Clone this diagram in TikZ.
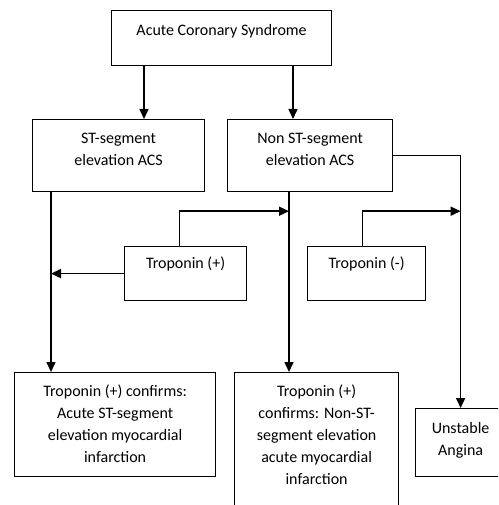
\documentclass[tikz,border=0pt]{standalone}
\usepackage{fontspec}
\setmainfont{Carlito}
\usetikzlibrary{arrows.meta}
\begin{document}
\begin{tikzpicture}[x=1pt,y=-1pt,
 box/.style={draw, line width=1.2pt, anchor=north west, inner sep=0pt},
 txt/.style={anchor=north, align=center, inner sep=0pt, font=\fontsize{16}{22}\selectfont},
 arr/.style={line width=1.6pt, -{Triangle[length=10pt,width=9pt]}}]
\useasboundingbox (0,0) rectangle (498,505);
\clip (0,0) rectangle (498,505);
% boxes
\node[box, minimum width=220pt, minimum height=55pt] (acs) at (111,10) {};
\node[box, minimum width=172pt, minimum height=72pt] (st) at (32,119) {};
\node[box, minimum width=165pt, minimum height=72pt] (nst) at (227,119) {};
\node[box, minimum width=122pt, minimum height=54pt] (tp) at (124,246) {};
\node[box, minimum width=118pt, minimum height=54pt] (tm) at (307,246) {};
\node[box, minimum width=201pt, minimum height=104pt] (bl) at (14,372) {};
\node[box, minimum width=164pt, minimum height=160pt] (bc) at (234,372) {};
\node[box, minimum width=90pt, minimum height=68pt] (ua) at (415,408) {};
% texts
\node[txt] (acsT) at ([yshift=-14pt]acs.north) {Acute Coronary Syndrome};
\node[txt] (stT) at ([yshift=-14pt]st.north) {ST-segment\\elevation ACS};
\node[txt] (nstT) at ([yshift=-14pt]nst.north) {Non ST-segment\\elevation ACS};
\node[txt] (tpT) at ([yshift=-11pt]tp.north) {Troponin (+)};
\node[txt] (tmT) at ([yshift=-11pt]tm.north) {Troponin (-)};
\node[txt] (blT) at ([yshift=-13pt]bl.north) {Troponin (+) confirms:\\Acute ST-segment\\elevation myocardial\\infarction};
\node[txt] (bcT) at ([yshift=-13pt]bc.north) {Troponin (+)\\confirms: Non-ST-\\segment elevation\\acute myocardial\\infarction};
\node[txt] (uaT) at ([yshift=-14pt]ua.north) {Unstable\\Angina};
% helper coordinates
\coordinate (stx) at ([xshift=19pt]st.south west);
\coordinate (ntx) at ([xshift=62pt]nst.south west);
\coordinate (row) at ([yshift=-19pt]ntx);
% connectors
\draw[arr] ([xshift=33pt]acs.south west) -- ([xshift=33pt]acs.south west |- st.north);
\draw[arr] ([xshift=182pt]acs.south west) -- ([xshift=182pt]acs.south west |- nst.north);
\draw[arr] (stx) -- (stx |- bl.north);
\draw[arr] (tp.west) -- (tp.west -| stx);
\draw[arr] ([xshift=-6pt]tp.north) |- (row);
\draw[arr] (ntx) -- (ntx |- bc.north);
\draw[arr] (nst.east) -| (ua.north);
\draw[arr] ([xshift=-4pt]tm.north) |- (ua.north |- row);
\end{tikzpicture}
\end{document}
